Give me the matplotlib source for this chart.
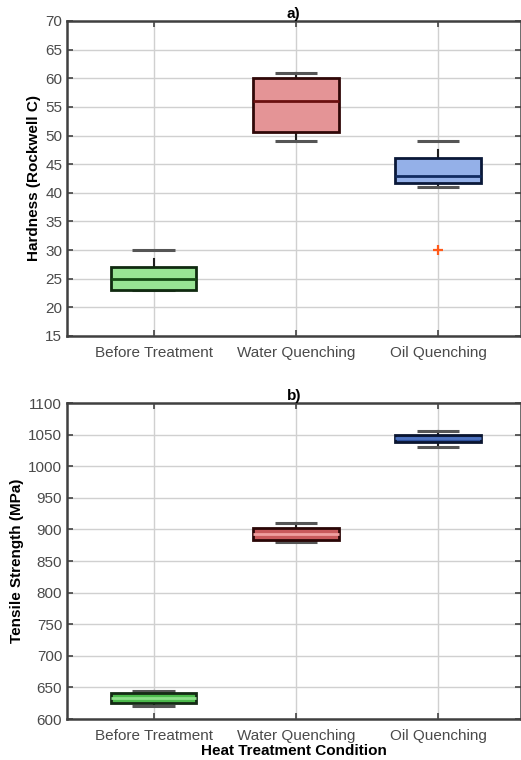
import matplotlib
matplotlib.use('Agg')
import matplotlib.pyplot as plt

plt.rcParams['font.family'] = ['Liberation Sans', 'DejaVu Sans']

conditions = ['Before Treatment', 'Water Quenching', 'Oil Quenching']

# hardness (HRC) box statistics
hrc_q1 = [23.0, 50.7, 41.7]
hrc_med = [25.0, 56.0, 43.0]
hrc_q3 = [27.0, 60.0, 46.0]
hrc_whislo = [23.0, 49.0, 41.0]
hrc_whishi = [28.4, 61.0, 47.4]
hrc_caplo = [23.0, 49.0, 41.0]
hrc_caphi = [30.0, 61.0, 49.0]
hrc_fliers = [[], [], [30.0]]

# tensile strength (MPa) box statistics
uts_q1 = [625.0, 884.0, 1038.0]
uts_med = [633.0, 893.0, 1044.0]
uts_q3 = [641.0, 902.0, 1050.0]
uts_whislo = [620.0, 880.0, 1030.0]
uts_whishi = [645.0, 910.0, 1055.0]
uts_caplo = [620.0, 880.0, 1030.0]
uts_caphi = [645.0, 910.0, 1055.0]
uts_fliers = [[], [], []]

top_fill = ['#98e494', '#e49496', '#94b0e8']
top_edge = ['#102a10', '#300808', '#0a1838']
top_med = ['#154a15', '#6a1010', '#102a60']
bot_fill = ['#4cba4c', '#c85a5c', '#2c4f9c']
bot_edge = ['#142a14', '#2a0606', '#0a1530']
bot_med = ['#8ee08a', '#f0a0a0', '#4f74c0']


def draw_panel(ax, q1, med, q3, wlo, whi, clo, chi, fliers, fills, edges, meds):
    pos = [1, 2, 3]
    stats = []
    for i in range(3):
        stats.append(dict(q1=q1[i], med=med[i], q3=q3[i], whislo=wlo[i],
                          whishi=whi[i], fliers=fliers[i]))
    bp = ax.bxp(stats, positions=pos, widths=0.6, patch_artist=True,
                showcaps=False, zorder=3,
                flierprops=dict(marker='+', markeredgecolor='#ff5a1a',
                                markersize=7, markeredgewidth=1.6))
    for i, box in enumerate(bp['boxes']):
        box.set_facecolor(fills[i])
        box.set_edgecolor(edges[i])
        box.set_linewidth(2.0)
        bp['medians'][i].set_color(meds[i])
        bp['medians'][i].set_linewidth(2.0)
    for w in bp['whiskers']:
        w.set_color('#202020')
        w.set_linewidth(1.5)
        w.set_zorder(2.5)
    ax.hlines(clo + chi, [p - 0.15 for p in pos] * 2, [p + 0.15 for p in pos] * 2,
              colors='#555555', linewidth=2.2, zorder=2.6)

    ax.set_xlim(0.39, 3.58)
    ax.set_xticks(pos)
    ax.set_xticklabels(conditions)
    ax.grid(True, color='#d0d0d0', linewidth=1.0)
    ax.set_axisbelow(True)
    ax.tick_params(direction='in', length=4, width=1.2, colors='#444444',
                   labelcolor='#4a4a4a', labelsize=11, top=True, right=True)
    ax.tick_params(axis='x', pad=7)
    for s in ax.spines.values():
        s.set_linewidth(1.8)
        s.set_color('#404040')


fig = plt.figure(figsize=(5.21, 7.6), dpi=100)
ax1 = fig.add_axes([0.1286, 0.5579, 0.8705, 0.4145])
ax2 = fig.add_axes([0.1286, 0.0539, 0.8705, 0.4158])

draw_panel(ax1, hrc_q1, hrc_med, hrc_q3, hrc_whislo, hrc_whishi,
           hrc_caplo, hrc_caphi, hrc_fliers, top_fill, top_edge, top_med)
ax1.set_ylim(15, 70)
ax1.set_yticks(range(15, 71, 5))
ax1.set_ylabel('Hardness (Rockwell C)', fontweight='bold', fontsize=11, labelpad=3)
ax1.set_title('a)', fontweight='bold', fontsize=11, pad=2)

draw_panel(ax2, uts_q1, uts_med, uts_q3, uts_whislo, uts_whishi,
           uts_caplo, uts_caphi, uts_fliers, bot_fill, bot_edge, bot_med)
ax2.set_ylim(600, 1100)
ax2.set_yticks(range(600, 1101, 50))
ax2.set_ylabel('Tensile Strength (MPa)', fontweight='bold', fontsize=11, labelpad=3)
ax2.set_xlabel('Heat Treatment Condition', fontweight='bold', fontsize=11, labelpad=1)
ax2.set_title('b)', fontweight='bold', fontsize=11, pad=2)

fig.savefig('out.png', dpi=100)
